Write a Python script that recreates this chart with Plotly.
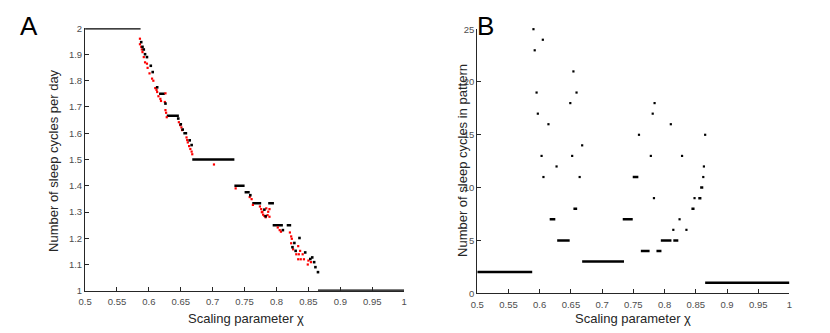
import plotly.graph_objects as go

# ---- panel A: sleep cycles per day vs scaling parameter chi ----
# flat (periodic) stretches
a_flat_x0 = [0.500, 0.616, 0.628, 0.654, 0.668, 0.734, 0.750, 0.762, 0.787, 0.794, 0.816, 0.865]
a_flat_x1 = [0.587, 0.625, 0.647, 0.660, 0.734, 0.750, 0.758, 0.776, 0.796, 0.810, 0.823, 1.000]
a_flat_y = [2.0, 1.75, 1.667, 1.6, 1.5, 1.4, 1.375, 1.333, 1.333, 1.25, 1.25, 1.0]

# isolated black points
a_black_x = [0.588, 0.590, 0.592, 0.594, 0.597, 0.603, 0.606, 0.613, 0.626, 0.646, 0.650,
             0.653, 0.664, 0.667, 0.759, 0.781, 0.783, 0.810, 0.825, 0.828, 0.830, 0.836,
             0.845, 0.853, 0.856, 0.859, 0.861, 0.865]
a_black_y = [1.947, 1.929, 1.919, 1.901, 1.890, 1.857, 1.833, 1.775, 1.713, 1.656, 1.634,
             1.614, 1.573, 1.555, 1.364, 1.309, 1.284, 1.231, 1.166, 1.182, 1.152, 1.201,
             1.146, 1.121, 1.127, 1.109, 1.090, 1.071]

# red (non-periodic) points
a_red_x = [0.586, 0.586, 0.588, 0.589, 0.590, 0.592, 0.594, 0.597, 0.598, 0.601, 0.605,
           0.607, 0.610, 0.612, 0.613, 0.615, 0.618, 0.619, 0.625, 0.626, 0.626, 0.627,
           0.628, 0.647, 0.649, 0.651, 0.652, 0.659, 0.660, 0.661, 0.663, 0.665, 0.667,
           0.668, 0.702, 0.736, 0.758, 0.761, 0.763, 0.774, 0.776, 0.777, 0.778, 0.779,
           0.781, 0.783, 0.784, 0.786, 0.787, 0.789, 0.789, 0.802, 0.805, 0.807, 0.821,
           0.823, 0.823, 0.824, 0.826, 0.831, 0.834, 0.834, 0.835, 0.837, 0.838, 0.841,
           0.843, 0.849, 0.850, 0.854]
a_red_y = [1.960, 1.939, 1.929, 1.919, 1.909, 1.890, 1.870, 1.865, 1.849, 1.828, 1.808,
           1.800, 1.772, 1.765, 1.757, 1.741, 1.731, 1.723, 1.719, 1.752, 1.688, 1.678,
           1.661, 1.642, 1.631, 1.622, 1.612, 1.584, 1.574, 1.565, 1.551, 1.540, 1.530,
           1.520, 1.481, 1.390, 1.357, 1.349, 1.327, 1.321, 1.311, 1.299, 1.301, 1.290,
           1.285, 1.280, 1.314, 1.288, 1.301, 1.311, 1.282, 1.241, 1.231, 1.225, 1.222,
           1.207, 1.181, 1.198, 1.158, 1.139, 1.170, 1.120, 1.139, 1.152, 1.120, 1.139,
           1.120, 1.100, 1.115, 1.109]

# ---- panel B: number of sleep cycles in the pattern ----
b_flat_x0 = [0.500, 0.616, 0.628, 0.654, 0.668, 0.733, 0.749, 0.762, 0.787, 0.794, 0.814, 0.843, 0.854, 0.857, 0.865]
b_flat_x1 = [0.588, 0.625, 0.648, 0.660, 0.735, 0.749, 0.758, 0.776, 0.795, 0.811, 0.822, 0.848, 0.859, 0.862, 1.000]
b_flat_n = [2, 7, 5, 8, 3, 7, 11, 4, 4, 5, 5, 8, 9, 10, 1]

b_pt_x = [0.590, 0.605, 0.592, 0.654, 0.595, 0.659, 0.649, 0.784, 0.597, 0.781, 0.614,
          0.810, 0.759, 0.865, 0.668, 0.603, 0.652, 0.778, 0.828, 0.627, 0.863, 0.606,
          0.664, 0.862, 0.783, 0.848, 0.824, 0.814, 0.835]
b_pt_n = [25, 24, 23, 21, 19, 19, 18, 18, 17, 17, 16,
          16, 15, 15, 14, 13, 13, 13, 13, 12, 12, 11,
          11, 11, 9, 9, 7, 6, 6]

x_ticks = [0.5, 0.55, 0.6, 0.65, 0.7, 0.75, 0.8, 0.85, 0.9, 0.95, 1.0]
x_labels = ["0.5", "0.55", "0.6", "0.65", "0.7", "0.75", "0.8", "0.85", "0.9", "0.95", "1"]
a_y_ticks = [1.0, 1.1, 1.2, 1.3, 1.4, 1.5, 1.6, 1.7, 1.8, 1.9, 2.0]
a_y_labels = ["1", "1.1", "1.2", "1.3", "1.4", "1.5", "1.6", "1.7", "1.8", "1.9", "2"]
b_y_ticks = [0, 5, 10, 15, 20, 25]


def segments(x0, x1, y):
    xs, ys = [], []
    for a, b, v in zip(x0, x1, y):
        xs += [a, b, None]
        ys += [v, v, None]
    return xs, ys


fig = go.Figure()

sx, sy = segments(a_flat_x0, a_flat_x1, a_flat_y)
fig.add_trace(go.Scatter(x=sx, y=sy, mode="lines", line=dict(color="black", width=2.5),
                         xaxis="x", yaxis="y", cliponaxis=False))
fig.add_trace(go.Scatter(x=a_red_x, y=a_red_y, mode="markers",
                         marker=dict(color="#ff0000", size=2.2, symbol="square"),
                         xaxis="x", yaxis="y", cliponaxis=False))
fig.add_trace(go.Scatter(x=a_black_x, y=a_black_y, mode="markers",
                         marker=dict(color="black", size=2.6, symbol="square"),
                         xaxis="x", yaxis="y", cliponaxis=False))

sx, sy = segments(b_flat_x0, b_flat_x1, b_flat_n)
fig.add_trace(go.Scatter(x=sx, y=sy, mode="lines", line=dict(color="black", width=2.5),
                         xaxis="x2", yaxis="y2", cliponaxis=False))
fig.add_trace(go.Scatter(x=b_pt_x, y=b_pt_n, mode="markers",
                         marker=dict(color="black", size=2.2, symbol="square"),
                         xaxis="x2", yaxis="y2", cliponaxis=False))

axis_style = dict(showline=True, linecolor="#262626", linewidth=1, ticks="inside",
                  ticklen=4, tickcolor="#262626", showgrid=False, zeroline=False,
                  tickfont=dict(size=9.5, color="#4d4d4d"))

fig.update_layout(
    width=830, height=333, margin=dict(l=0, r=0, t=0, b=0),
    paper_bgcolor="white", plot_bgcolor="white", showlegend=False,
    font=dict(family="Liberation Sans", color="#262626"),
    xaxis=dict(domain=[0.0952, 0.4843], range=[0.5, 1.0], tickvals=x_ticks,
               ticktext=x_labels, anchor="y", ticklabelstandoff=2, **axis_style),
    yaxis=dict(domain=[0.1156, 0.931], range=[1.0, 2.0], tickvals=a_y_ticks,
               ticktext=a_y_labels, anchor="x", **axis_style),
    xaxis2=dict(domain=[0.5735, 0.9542], range=[0.5, 1.0], tickvals=x_ticks,
                ticktext=x_labels, anchor="y2", ticklabelstandoff=2, **axis_style),
    yaxis2=dict(domain=[0.1081, 0.928], range=[0, 25], tickvals=b_y_ticks,
                anchor="x2", **axis_style),
)

title_font = dict(size=13, color="#262626")
fig.add_annotation(text="Scaling parameter χ", x=0.2915, y=0.03, xref="paper", yref="paper",
                   xanchor="center", yanchor="middle", showarrow=False, font=title_font)
fig.add_annotation(text="Scaling parameter χ", x=0.7639, y=0.03, xref="paper", yref="paper",
                   xanchor="center", yanchor="middle", showarrow=False, font=title_font)
fig.add_annotation(text="Number of sleep cycles per day", x=0.0566, y=0.52, xref="paper",
                   yref="paper", xanchor="center", yanchor="middle", showarrow=False,
                   textangle=-90, font=title_font)
fig.add_annotation(text="Number of sleep cycles in pattern", x=0.5554, y=0.52, xref="paper",
                   yref="paper", xanchor="center", yanchor="middle", showarrow=False,
                   textangle=-90, font=title_font)
fig.add_annotation(text="A", x=0.013, y=0.99, xref="paper", yref="paper", xanchor="left",
                   yanchor="top", showarrow=False, font=dict(size=26, color="black"))
fig.add_annotation(text="B", x=0.571, y=0.99, xref="paper", yref="paper", xanchor="left",
                   yanchor="top", showarrow=False, font=dict(size=26, color="black"))

# page body has a default margin; drop it so the figure sits at the window origin
fig.write_html("out.html", config={"displayModeBar": False},
               post_script="document.body.style.margin='0';")
